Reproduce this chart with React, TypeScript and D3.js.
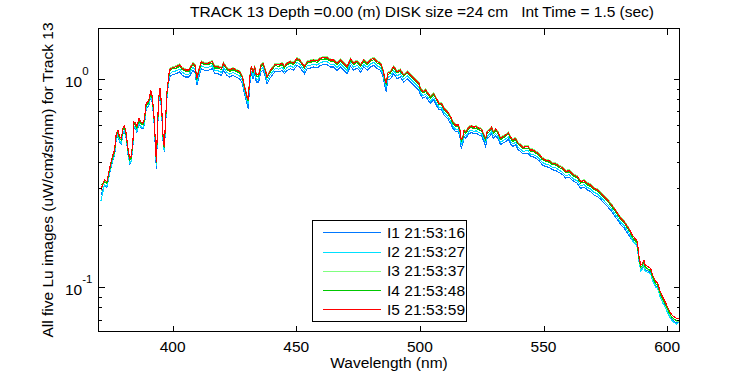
import React from "react";
import * as d3 from "d3";

// Wavelength grid (nm)
const WAVELENGTHS = [
  371.0, 372.4, 373.4, 374.2, 375.1, 375.8, 376.5, 377.2, 377.9, 378.5,
  379.2, 379.9, 380.5, 381.2, 381.9, 382.6, 383.2, 383.9, 384.3, 385.0,
  385.5, 386.4, 387.0, 388.0, 388.6, 389.3, 390.0, 390.6, 391.1, 391.6,
  392.3, 392.8, 393.4, 393.8, 394.3, 394.9, 395.5, 396.1, 396.6, 397.1,
  397.7, 398.2,
  398.7, 399.8, 401.5, 402.8, 403.9, 405.2, 406.6, 408.2, 409.0, 409.8,
  410.6, 411.6, 412.9, 414.3, 416.0, 417.0, 418.3, 419.7, 420.6, 422.0,
  423.0, 424.4, 425.7, 427.1, 428.2, 429.0, 429.6, 430.1, 430.6, 431.1,
  431.8, 432.5, 433.2, 433.8, 434.8, 435.7, 436.6, 437.5, 438.2, 439.2,
  440.2, 441.5, 442.9, 444.3, 445.2, 446.3, 447.6, 448.9, 450.3, 451.4,
  452.3, 453.3, 454.4, 455.7, 457.0, 458.4, 459.8, 461.1, 462.5, 463.8,
  465.1, 466.5, 467.9, 469.2, 470.6, 471.9, 473.2, 474.6, 476.0, 477.3,
  478.7, 480.0, 481.3, 482.7, 484.1, 485.1, 485.8, 486.4, 487.0, 488.1,
  489.4, 490.8, 492.1, 493.5, 494.9, 496.2, 497.5, 498.9, 499.6,
  500.2, 501.2, 502.3, 503.2, 504.3, 505.6, 506.6, 507.7, 508.7, 509.7,
  511.1, 512.4, 513.3, 514.4, 515.5, 516.2, 516.7, 517.4, 517.9, 518.5,
  519.1, 519.8, 520.9, 521.8, 522.8, 523.8, 524.9, 525.9, 526.6, 527.2,
  528.2, 529.0, 529.7, 530.6, 531.5, 532.6, 533.6, 534.7, 535.8, 536.7,
  537.6, 538.7, 539.8, 540.7, 541.7, 542.8, 543.8, 544.8, 545.7, 546.8,
  548.1, 549.5, 550.8, 552.2, 553.6, 554.9, 556.3, 557.6, 559.0, 560.3,
  561.4, 562.3, 563.7, 565.0, 566.4, 567.7, 569.1, 570.4, 571.8, 573.1,
  574.4, 575.8, 577.1, 578.5, 579.9, 581.2, 582.6, 583.9, 584.9,
  585.9, 587.0, 588.0, 588.4, 589.3, 590.0, 590.6, 591.1, 592.1, 593.4,
  594.1, 595.4, 596.1, 597.0, 598.1, 599.2, 600.1, 601.1, 601.9, 602.8,
  603.8, 605.0,
];

const LU_I1 = [
  0.277, 0.308, 0.303, 0.338, 0.378, 0.407, 0.430, 0.517, 0.536, 0.498,
  0.489, 0.546, 0.562, 0.517, 0.438, 0.392, 0.400, 0.471, 0.588, 0.577,
  0.556, 0.611, 0.588, 0.577, 0.611, 0.721, 0.733, 0.761, 0.835, 0.791,
  0.669, 0.526, 0.370, 0.526, 0.761, 0.851, 0.707, 0.508, 0.446, 0.588,
  0.820, 0.931,
  1.025, 1.052, 1.064, 1.084, 1.044, 1.025, 1.025, 1.104, 1.084, 0.935,
  1.025, 1.125, 1.104, 1.104, 1.125, 1.064, 1.064, 1.044, 1.104, 1.044,
  1.025, 1.044, 1.025, 1.006, 0.953, 0.860, 0.805, 0.763, 0.720, 0.934,
  1.064, 1.006, 1.064, 0.970, 0.970, 1.084, 1.104, 1.025, 0.952, 1.006,
  1.044, 1.092, 1.084, 1.104, 1.064, 1.104, 1.124, 1.104, 1.167, 1.145,
  1.104, 1.064, 1.124, 1.132, 1.145, 1.132, 1.167, 1.175, 1.175, 1.145,
  1.145, 1.104, 1.145, 1.104, 1.064, 1.158, 1.104, 1.132, 1.084, 1.145,
  1.104, 1.145, 1.167, 1.124, 1.104, 1.025, 0.935, 0.870, 0.989, 1.006,
  1.064, 1.006, 1.025, 0.970, 1.006, 0.970, 0.935, 0.901, 0.885,
  0.842, 0.811, 0.826, 0.797, 0.767, 0.797, 0.753, 0.713, 0.713, 0.675,
  0.650, 0.615, 0.581, 0.561, 0.561, 0.530, 0.465, 0.493, 0.530, 0.521,
  0.530, 0.547, 0.554, 0.547, 0.551, 0.540, 0.535, 0.502, 0.475, 0.521,
  0.530, 0.547, 0.521, 0.535, 0.521, 0.484, 0.493, 0.502, 0.515, 0.489,
  0.475, 0.484, 0.458, 0.449, 0.438, 0.441, 0.441, 0.425, 0.425, 0.418,
  0.407, 0.388, 0.380, 0.378, 0.367, 0.365, 0.356, 0.349, 0.335, 0.339,
  0.328, 0.323, 0.316, 0.299, 0.303, 0.294, 0.288, 0.278, 0.273, 0.265,
  0.254, 0.245, 0.235, 0.223, 0.211, 0.200, 0.193, 0.182, 0.175,
  0.169, 0.163, 0.158, 0.139, 0.122, 0.124, 0.128, 0.122, 0.120, 0.117,
  0.1089, 0.1011, 0.1004, 0.0922, 0.0856, 0.0810, 0.0767, 0.0725, 0.0699, 0.0686,
  0.0674, 0.0680,
];

const LU_I2 = [
  0.260, 0.312, 0.306, 0.342, 0.382, 0.411, 0.434, 0.523, 0.542, 0.504,
  0.494, 0.552, 0.568, 0.523, 0.443, 0.396, 0.404, 0.476, 0.594, 0.583,
  0.562, 0.618, 0.594, 0.583, 0.618, 0.729, 0.741, 0.770, 0.844, 0.799,
  0.676, 0.532, 0.382, 0.532, 0.770, 0.860, 0.714, 0.513, 0.450, 0.594,
  0.828, 0.941,
  1.058, 1.086, 1.098, 1.119, 1.078, 1.058, 1.058, 1.140, 1.119, 0.966,
  1.058, 1.161, 1.140, 1.140, 1.161, 1.098, 1.098, 1.078, 1.140, 1.078,
  1.058, 1.078, 1.058, 1.039, 0.984, 0.888, 0.831, 0.788, 0.759, 0.965,
  1.098, 1.039, 1.098, 1.002, 1.002, 1.119, 1.140, 1.058, 0.983, 1.039,
  1.078, 1.127, 1.119, 1.140, 1.098, 1.140, 1.160, 1.140, 1.205, 1.182,
  1.140, 1.098, 1.160, 1.169, 1.182, 1.169, 1.205, 1.213, 1.213, 1.182,
  1.182, 1.140, 1.182, 1.140, 1.098, 1.196, 1.140, 1.169, 1.119, 1.182,
  1.140, 1.182, 1.205, 1.160, 1.140, 1.058, 0.966, 0.914, 1.021, 1.039,
  1.098, 1.039, 1.058, 1.002, 1.039, 1.002, 0.966, 0.930, 0.914,
  0.864, 0.833, 0.848, 0.818, 0.788, 0.818, 0.774, 0.732, 0.732, 0.693,
  0.668, 0.631, 0.597, 0.576, 0.576, 0.544, 0.488, 0.506, 0.544, 0.535,
  0.544, 0.562, 0.569, 0.562, 0.565, 0.555, 0.549, 0.516, 0.497, 0.535,
  0.544, 0.562, 0.535, 0.549, 0.535, 0.497, 0.506, 0.516, 0.529, 0.502,
  0.488, 0.497, 0.470, 0.461, 0.450, 0.453, 0.453, 0.436, 0.436, 0.429,
  0.418, 0.398, 0.391, 0.388, 0.377, 0.375, 0.366, 0.358, 0.344, 0.348,
  0.337, 0.331, 0.325, 0.308, 0.311, 0.302, 0.296, 0.286, 0.281, 0.272,
  0.261, 0.251, 0.242, 0.229, 0.217, 0.205, 0.198, 0.187, 0.180,
  0.167, 0.162, 0.156, 0.137, 0.120, 0.122, 0.127, 0.120, 0.118, 0.116,
  0.1077, 0.1000, 0.0994, 0.0912, 0.0847, 0.0802, 0.0759, 0.0717, 0.0692, 0.0679,
  0.0666, 0.0680,
];

const LU_I3 = [
  0.292, 0.325, 0.319, 0.356, 0.398, 0.429, 0.452, 0.545, 0.564, 0.525,
  0.515, 0.575, 0.592, 0.545, 0.461, 0.413, 0.421, 0.496, 0.619, 0.608,
  0.586, 0.644, 0.619, 0.608, 0.644, 0.759, 0.772, 0.802, 0.879, 0.833,
  0.705, 0.554, 0.398, 0.554, 0.802, 0.896, 0.744, 0.535, 0.469, 0.619,
  0.863, 0.980,
  1.119, 1.148, 1.162, 1.184, 1.140, 1.119, 1.119, 1.206, 1.184, 1.021,
  1.119, 1.228, 1.206, 1.206, 1.228, 1.162, 1.162, 1.140, 1.206, 1.140,
  1.119, 1.140, 1.119, 1.099, 1.040, 0.939, 0.879, 0.833, 0.803, 1.020,
  1.162, 1.099, 1.162, 1.059, 1.059, 1.184, 1.206, 1.119, 1.039, 1.099,
  1.140, 1.192, 1.184, 1.206, 1.162, 1.206, 1.227, 1.206, 1.275, 1.250,
  1.206, 1.162, 1.227, 1.236, 1.250, 1.236, 1.275, 1.283, 1.283, 1.250,
  1.250, 1.206, 1.250, 1.206, 1.162, 1.265, 1.206, 1.236, 1.184, 1.250,
  1.206, 1.250, 1.275, 1.227, 1.206, 1.119, 1.021, 0.967, 1.080, 1.099,
  1.162, 1.099, 1.119, 1.059, 1.099, 1.059, 1.021, 0.984, 0.967,
  0.914, 0.881, 0.897, 0.866, 0.833, 0.866, 0.818, 0.775, 0.775, 0.733,
  0.706, 0.668, 0.631, 0.609, 0.609, 0.576, 0.516, 0.535, 0.576, 0.566,
  0.576, 0.594, 0.602, 0.594, 0.598, 0.587, 0.581, 0.545, 0.525, 0.566,
  0.576, 0.594, 0.566, 0.581, 0.566, 0.525, 0.535, 0.545, 0.560, 0.531,
  0.516, 0.525, 0.497, 0.488, 0.476, 0.479, 0.479, 0.462, 0.462, 0.453,
  0.442, 0.421, 0.413, 0.410, 0.399, 0.397, 0.387, 0.379, 0.364, 0.368,
  0.357, 0.350, 0.343, 0.325, 0.329, 0.319, 0.313, 0.302, 0.297, 0.288,
  0.276, 0.266, 0.256, 0.242, 0.229, 0.217, 0.209, 0.198, 0.190,
  0.173, 0.167, 0.161, 0.142, 0.124, 0.126, 0.131, 0.124, 0.122, 0.119,
  0.1112, 0.1032, 0.1025, 0.0941, 0.0874, 0.0827, 0.0783, 0.0740, 0.0714, 0.0700,
  0.0688, 0.0688,
];

const LU_I4 = [
  0.310, 0.321, 0.316, 0.353, 0.394, 0.424, 0.448, 0.539, 0.559, 0.519,
  0.510, 0.569, 0.586, 0.539, 0.457, 0.409, 0.417, 0.491, 0.613, 0.602,
  0.580, 0.637, 0.613, 0.602, 0.637, 0.752, 0.764, 0.794, 0.870, 0.824,
  0.698, 0.549, 0.394, 0.549, 0.794, 0.887, 0.737, 0.529, 0.465, 0.613,
  0.855, 0.970,
  1.091, 1.120, 1.133, 1.154, 1.112, 1.091, 1.091, 1.176, 1.154, 0.996,
  1.091, 1.198, 1.176, 1.176, 1.198, 1.133, 1.133, 1.112, 1.176, 1.112,
  1.091, 1.112, 1.091, 1.072, 1.015, 0.916, 0.857, 0.813, 0.783, 0.995,
  1.133, 1.072, 1.133, 1.033, 1.033, 1.154, 1.176, 1.091, 1.014, 1.072,
  1.112, 1.162, 1.154, 1.176, 1.133, 1.176, 1.197, 1.176, 1.243, 1.219,
  1.176, 1.133, 1.197, 1.206, 1.219, 1.206, 1.243, 1.251, 1.251, 1.219,
  1.219, 1.176, 1.219, 1.176, 1.133, 1.233, 1.176, 1.206, 1.154, 1.219,
  1.176, 1.219, 1.243, 1.197, 1.176, 1.091, 0.996, 0.943, 1.053, 1.072,
  1.133, 1.072, 1.091, 1.033, 1.072, 1.033, 0.996, 0.959, 0.943,
  0.891, 0.859, 0.875, 0.844, 0.813, 0.844, 0.798, 0.755, 0.755, 0.715,
  0.689, 0.651, 0.616, 0.594, 0.594, 0.561, 0.503, 0.522, 0.561, 0.552,
  0.561, 0.579, 0.587, 0.579, 0.583, 0.572, 0.566, 0.532, 0.512, 0.552,
  0.561, 0.579, 0.552, 0.566, 0.552, 0.512, 0.522, 0.532, 0.546, 0.518,
  0.503, 0.512, 0.485, 0.476, 0.464, 0.467, 0.467, 0.450, 0.450, 0.442,
  0.431, 0.411, 0.403, 0.400, 0.389, 0.387, 0.377, 0.369, 0.355, 0.359,
  0.348, 0.342, 0.335, 0.317, 0.321, 0.311, 0.305, 0.295, 0.290, 0.281,
  0.269, 0.259, 0.249, 0.236, 0.224, 0.212, 0.204, 0.193, 0.185,
  0.174, 0.168, 0.162, 0.142, 0.125, 0.127, 0.132, 0.125, 0.123, 0.120,
  0.1117, 0.1037, 0.1031, 0.0946, 0.0878, 0.0832, 0.0787, 0.0744, 0.0718, 0.0704,
  0.0691, 0.0691,
];

const LU_I5 = [
  0.295, 0.328, 0.322, 0.360, 0.402, 0.433, 0.457, 0.550, 0.570, 0.530,
  0.520, 0.581, 0.598, 0.550, 0.466, 0.417, 0.425, 0.501, 0.625, 0.614,
  0.592, 0.650, 0.625, 0.614, 0.650, 0.767, 0.780, 0.810, 0.888, 0.841,
  0.712, 0.560, 0.402, 0.560, 0.810, 0.905, 0.752, 0.540, 0.474, 0.625,
  0.872, 0.990,
  1.108, 1.137, 1.150, 1.172, 1.129, 1.108, 1.108, 1.194, 1.172, 1.011,
  1.108, 1.216, 1.194, 1.194, 1.216, 1.150, 1.150, 1.129, 1.194, 1.129,
  1.108, 1.129, 1.108, 1.088, 1.030, 0.930, 0.870, 0.825, 0.795, 1.010,
  1.150, 1.088, 1.150, 1.049, 1.049, 1.172, 1.194, 1.108, 1.029, 1.088,
  1.129, 1.180, 1.172, 1.194, 1.150, 1.194, 1.215, 1.194, 1.262, 1.238,
  1.194, 1.150, 1.215, 1.224, 1.238, 1.224, 1.262, 1.270, 1.270, 1.238,
  1.238, 1.194, 1.238, 1.194, 1.150, 1.252, 1.194, 1.224, 1.172, 1.238,
  1.194, 1.238, 1.262, 1.215, 1.194, 1.108, 1.011, 0.957, 1.069, 1.088,
  1.150, 1.088, 1.108, 1.049, 1.088, 1.049, 1.011, 0.974, 0.957,
  0.905, 0.872, 0.888, 0.857, 0.825, 0.857, 0.810, 0.767, 0.767, 0.726,
  0.699, 0.661, 0.625, 0.603, 0.603, 0.570, 0.511, 0.530, 0.570, 0.560,
  0.570, 0.588, 0.596, 0.588, 0.592, 0.581, 0.575, 0.540, 0.520, 0.560,
  0.570, 0.588, 0.560, 0.575, 0.560, 0.520, 0.530, 0.540, 0.554, 0.526,
  0.511, 0.520, 0.492, 0.483, 0.471, 0.474, 0.474, 0.457, 0.457, 0.449,
  0.438, 0.417, 0.409, 0.406, 0.395, 0.393, 0.383, 0.375, 0.360, 0.364,
  0.353, 0.347, 0.340, 0.322, 0.326, 0.316, 0.310, 0.299, 0.294, 0.285,
  0.273, 0.263, 0.253, 0.240, 0.227, 0.215, 0.207, 0.196, 0.188,
  0.178, 0.172, 0.166, 0.146, 0.128, 0.130, 0.135, 0.128, 0.126, 0.123,
  0.1146, 0.1064, 0.1057, 0.0970, 0.0901, 0.0853, 0.0807, 0.0763, 0.0736, 0.0722,
  0.0709, 0.0709,
];

const SERIES_LABELS = ["I1 21:53:16", "I2 21:53:27", "I3 21:53:37", "I4 21:53:48", "I5 21:53:59"];
const SERIES_COLORS = ["#0078ff", "#00e0ff", "#80ff80", "#00c800", "#ff0000"];
const SERIES_VALUES = [LU_I1, LU_I2, LU_I3, LU_I4, LU_I5];

const X_TICKS = [400, 450, 500, 550, 600];
const Y_MAJOR = [1, 0.1];
const Y_MAJOR_EXP = ["0", "-1"];
const Y_MINOR = [0.07, 0.08, 0.09, 0.2, 0.3, 0.4, 0.5, 0.6, 0.7, 0.8, 0.9];

const TITLE = "TRACK 13 Depth =0.00 (m) DISK size =24 cm\u00a0\u00a0 Int Time = 1.5 (sec)";
const X_LABEL = "Wavelength (nm)";

const FONT = "'Liberation Sans', Arial, Helvetica, sans-serif";

export default function App() {
  const W = 750;
  const H = 375;
  const left = 98.5, right = 679.5, top = 28.5, bottom = 331.5;

  const x = d3.scaleLinear().domain([370, 605]).range([left, right]);
  const y = d3.scaleLog().domain([0.0613, 1.754]).range([bottom, top]);

  const line = d3
    .line<[number, number]>()
    .x((d) => x(d[0]))
    .y((d) => y(d[1]));

  const majorLen = 6;
  const minorLen = 3;

  const legendX = 312.5, legendY = 220.5, legendW = 154, legendH = 101;
  const rowY0 = 232.3, rowStep = 19.2;

  return (
    <svg
      width={W}
      height={H}
      style={{ position: "absolute", left: 0, top: 0, background: "#fff" }}
      fontFamily={FONT}
    >
      <rect x={0} y={0} width={W} height={H} fill="#fff" />
      <defs>
        <clipPath id="plotClip">
          <rect x={left} y={top} width={right - left} height={bottom - top} />
        </clipPath>
      </defs>

      {/* series */}
      <g clipPath="url(#plotClip)">
        {SERIES_VALUES.map((vals, si) => {
          const pts: [number, number][] = WAVELENGTHS.map((w, i) => [w, vals[i]] as [number, number]).filter(
            (d) => d[1] !== undefined
          );
          return (
            <path
              key={si}
              d={line(pts) || ""}
              fill="none"
              stroke={SERIES_COLORS[si]}
              strokeWidth={1.1}
              strokeLinejoin="miter"
              shapeRendering="crispEdges"
            />
          );
        })}
      </g>

      {/* axes box */}
      <rect
        x={left}
        y={top}
        width={right - left}
        height={bottom - top}
        fill="none"
        stroke="#000"
        strokeWidth={1}
        shapeRendering="crispEdges"
      />

      {/* ticks */}
      <g stroke="#000" strokeWidth={1} shapeRendering="crispEdges">
        {X_TICKS.map((t) => {
          const xx = Math.round(x(t)) + 0.5;
          return (
            <g key={t}>
              <line x1={xx} x2={xx} y1={bottom} y2={bottom - majorLen} />
              <line x1={xx} x2={xx} y1={top} y2={top + majorLen} />
            </g>
          );
        })}
        {Y_MAJOR.map((t) => {
          const yy = Math.round(y(t)) + 0.5;
          return (
            <g key={t}>
              <line x1={left} x2={left + majorLen} y1={yy} y2={yy} />
              <line x1={right} x2={right - majorLen} y1={yy} y2={yy} />
            </g>
          );
        })}
        {Y_MINOR.map((t) => {
          const yy = Math.round(y(t)) + 0.5;
          return (
            <g key={t}>
              <line x1={left} x2={left + minorLen} y1={yy} y2={yy} />
              <line x1={right} x2={right - minorLen} y1={yy} y2={yy} />
            </g>
          );
        })}
      </g>

      {/* x tick labels */}
      <g fontSize={15.5} fill="#000" textAnchor="middle">
        {X_TICKS.map((t) => (
          <text key={t} x={x(t)} y={352}>
            {t}
          </text>
        ))}
      </g>

      {/* y tick labels */}
      <g fill="#000">
        {Y_MAJOR.map((t, i) => (
          <text key={t} x={65} y={y(t) + 7.4} fontSize={15.5}>
            10
            <tspan fontSize={11.5} dy={-11.7}>
              {Y_MAJOR_EXP[i]}
            </tspan>
          </text>
        ))}
      </g>

      {/* x label */}
      <text x={(left + right) / 2} y={368} fontSize={15.5} textAnchor="middle" fill="#000">
        {X_LABEL}
      </text>

      {/* y label */}
      <text
        transform={`translate(53,${(top + bottom) / 2}) rotate(-90)`}
        fontSize={15.5}
        textAnchor="middle"
        fill="#000"
      >
        All five Lu images (uW/cm
        <tspan fontSize={10} dy={-1}>2</tspan>
        <tspan dx={-4} dy={1}>/sr/nm) for Track 13</tspan>
      </text>

      {/* title */}
      <text x={190} y={17} fontSize={15.5} fill="#000" textLength={464} lengthAdjust="spacing">
        {TITLE}
      </text>

      {/* legend */}
      <rect
        x={legendX}
        y={legendY}
        width={legendW}
        height={legendH}
        fill="#fff"
        stroke="#000"
        strokeWidth={1}
        shapeRendering="crispEdges"
      />
      {SERIES_LABELS.map((lab, i) => {
        const ry = rowY0 + i * rowStep;
        return (
          <g key={lab}>
            <line
              x1={322.5}
              x2={381}
              y1={Math.round(ry) + 0.5}
              y2={Math.round(ry) + 0.5}
              stroke={SERIES_COLORS[i]}
              strokeWidth={1}
              shapeRendering="crispEdges"
            />
            <text x={387} y={ry + 5.6} fontSize={15.5} fill="#000" textLength={78} lengthAdjust="spacing">
              {lab}
            </text>
          </g>
        );
      })}
    </svg>
  );
}
